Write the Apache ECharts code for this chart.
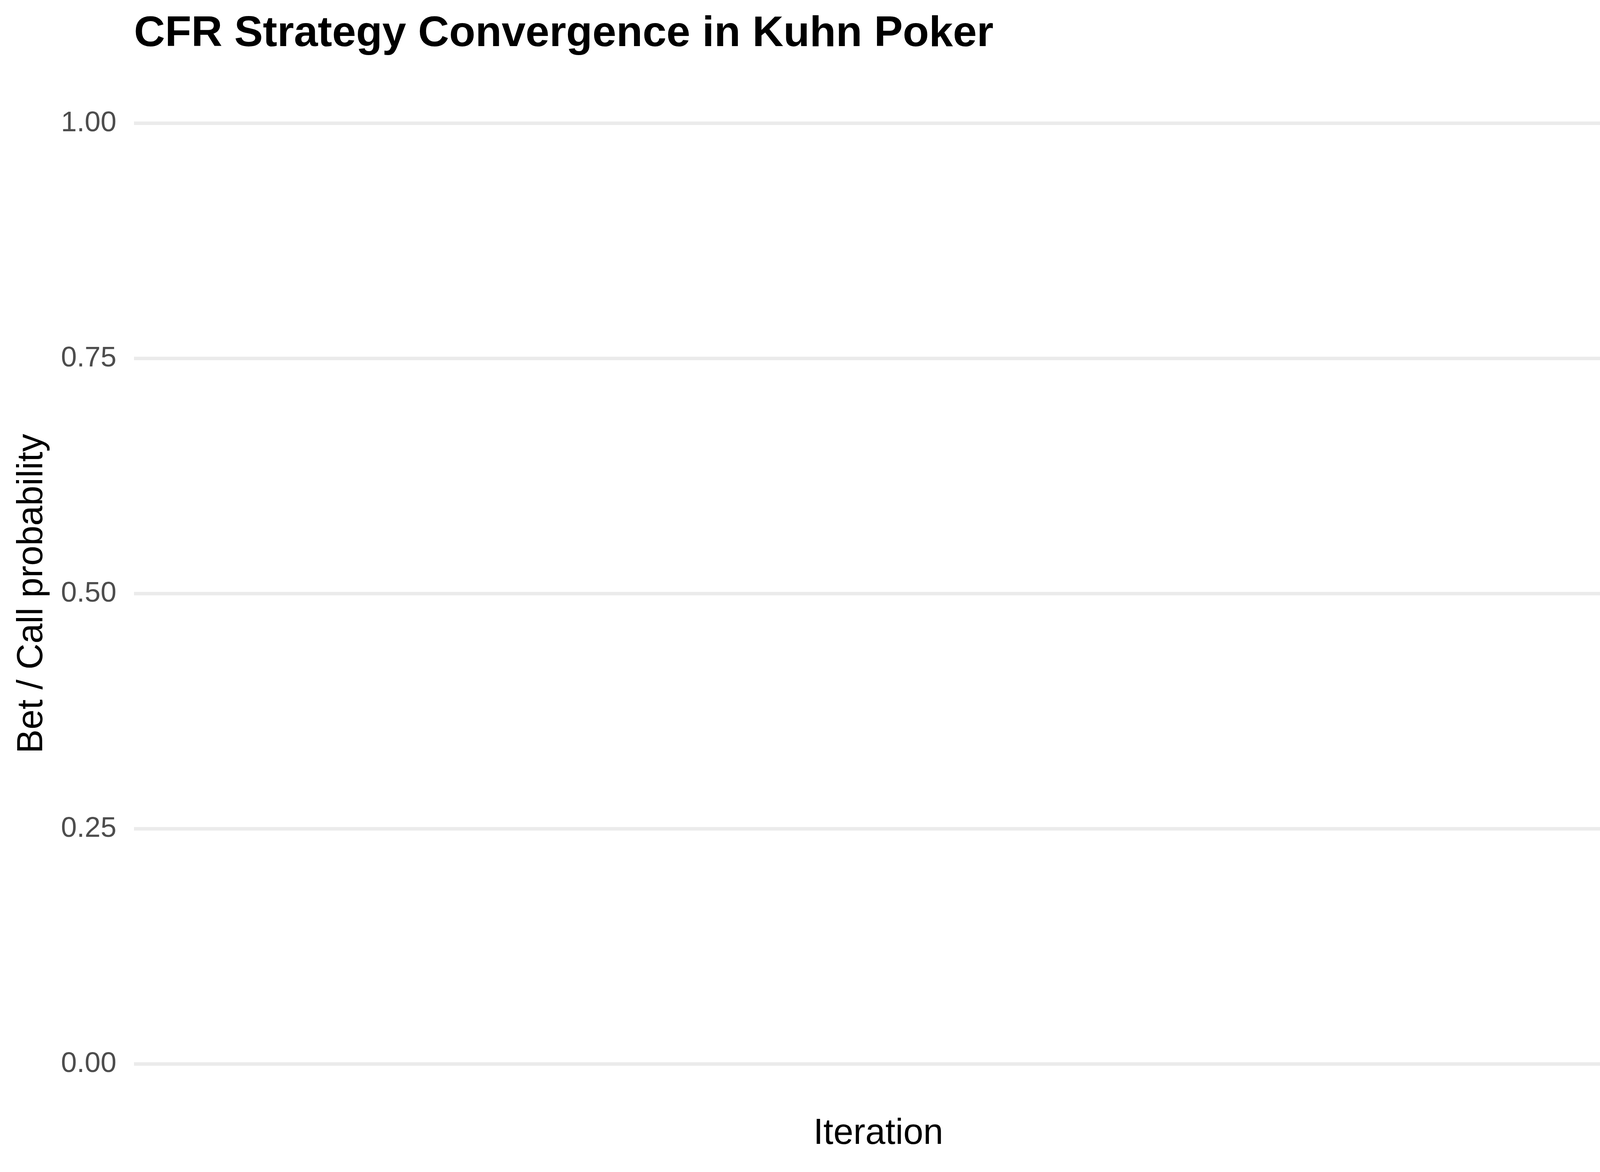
<!DOCTYPE html>
<html>
<head>
<meta charset="utf-8">
<title>CFR Strategy Convergence in Kuhn Poker</title>
<script src="https://cdn.jsdelivr.net/npm/echarts@6/dist/echarts.min.js"></script>
<style>
  html, body { margin: 0; padding: 0; background: #ffffff; }
  #main { width: 4200px; height: 3000px; }
</style>
</head>
<body>
<div id="main"></div>
<script>
// Data: the reference panel is empty, only the probability axis is drawn
const iterations = [];
const betCallProb = [];
const yTicks = [0, 0.25, 0.5, 0.75, 1];

const FONT = 'Liberation Sans';

var chartDom = document.getElementById('main');
var myChart = echarts.init(chartDom, null, { renderer: 'canvas' });

function buildSeries() {
    let points = [];
    for (let i = 0; i < betCallProb.length; i++) {
        points.push([iterations[i], betCallProb[i]]);
    }
    return [
        {
            name: 'Bet / Call probability',
            type: 'line',
            data: points,
            showSymbol: false
        }
    ];
}

var option = {
    backgroundColor: '#ffffff',
    animation: false,
    title: {
        text: 'CFR Strategy Convergence in Kuhn Poker',
        left: 343,
        top: 33,
        padding: 0,
        textStyle: {
            fontFamily: FONT,
            fontSize: 110,
            fontWeight: 'bold',
            color: '#000000'
        }
    },
    grid: {
        left: 343,
        right: 46,
        top: 315.5,
        bottom: 276.5
    },
    xAxis: {
        type: 'value',
        name: 'Iteration',
        nameLocation: 'middle',
        nameGap: 133,
        nameTextStyle: {
            fontFamily: FONT,
            fontSize: 92,
            color: '#000000'
        },
        axisLine: { show: false },
        axisTick: { show: false },
        axisLabel: { show: false },
        splitLine: { show: false }
    },
    yAxis: {
        type: 'value',
        min: yTicks[0],
        max: yTicks[yTicks.length - 1],
        interval: 0.25,
        name: 'Bet / Call probability',
        nameLocation: 'middle',
        nameRotate: 90,
        nameGap: 214,
        nameTextStyle: {
            fontFamily: FONT,
            fontSize: 92,
            color: '#000000'
        },
        axisLine: { show: false },
        axisTick: { show: false },
        axisLabel: {
            margin: 45,
            fontFamily: FONT,
            fontSize: 73,
            color: '#4D4D4D',
            formatter: function (v) { return v.toFixed(2); }
        },
        splitLine: {
            lineStyle: { color: '#EBEBEB', width: 9 }
        }
    },
    series: buildSeries()
};

myChart.setOption(option);

window.addEventListener('resize', function () {
    myChart.resize();
});
</script>
</body>
</html>
